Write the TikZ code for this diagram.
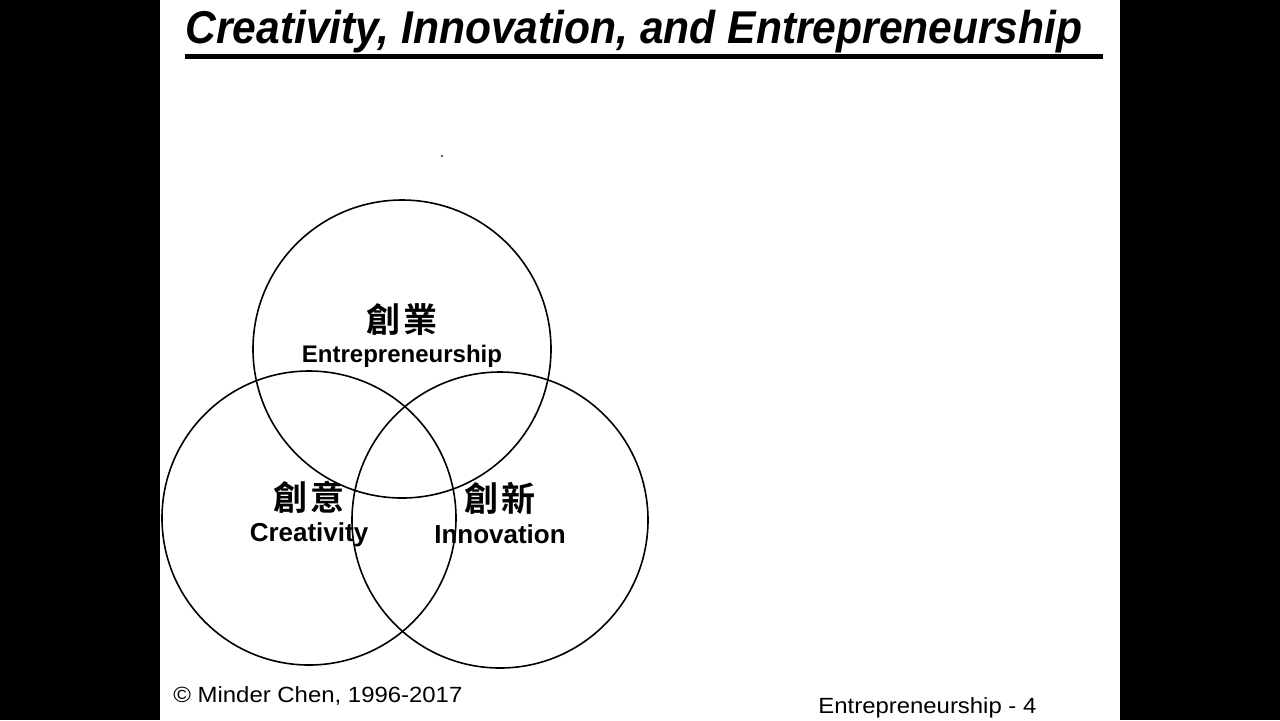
\documentclass[tikz,border=0pt]{standalone}
\usepackage{fontspec}
\usepackage{graphicx}
\setmainfont{Liberation Sans}
\newfontfamily\cjk{Noto Sans CJK TC}[BoldFont={Noto Sans CJK TC Bold}]
\begin{document}
\begin{tikzpicture}[x=0.5pt,y=-0.5pt,
  ring/.style={draw=black,line width=0.8pt},
  lab/.style={inner sep=0pt,anchor=base,font=\bfseries\fontsize{13pt}{13pt}\selectfont},
  han/.style={inner sep=0pt,font=\cjk\bfseries\fontsize{17pt}{17pt}\selectfont},
  foot/.style={inner sep=0pt,font=\fontsize{11pt}{11pt}\selectfont}]
\fill[black] (0,0) rectangle (1280,720);
\fill[white] (160,0) rectangle (1120,720);
\useasboundingbox (0,0) rectangle (1280,720);
% title
\node[inner sep=0pt,anchor=base west,font=\bfseries\itshape\fontsize{23pt}{23pt}\selectfont] (title) at (185,43) {\resizebox{448.5pt}{\height}{Creativity, Innovation, and Entrepreneurship}};
\fill[black] (185,53.5) rectangle (1103,58.5);
% stray dot
\fill[red!55!black] (442,156) circle (1.2);
% circles
\node[ring,circle,minimum size=298pt*0.5,inner sep=0pt] (ent) at (402,349) {};
\node[ring,circle,minimum size=294pt*0.5,inner sep=0pt] (cre) at (309,518) {};
\node[ring,circle,minimum size=296pt*0.5,inner sep=0pt] (inn) at (500,520) {};
% labels
\node[han] (entzh) at (402,320) {創\hspace{1.5pt}業};
\node[lab,font=\bfseries\fontsize{12pt}{12pt}\selectfont] (enten) at (402,362) {Entrepreneurship};
\node[han] (crezh) at (309,497) {創\hspace{1.5pt}意};
\node[lab] (creen) at (309,541) {Creativity};
\node[han] (innzh) at (500,498) {創\hspace{1.5pt}新};
\node[lab] (innen) at (500,543) {Innovation};
% footer
\node[foot,anchor=base west] (copy) at (173,702) {\resizebox{144.5pt}{\height}{© Minder Chen, 1996-2017}};
\node[foot,anchor=base west] (page) at (818,713) {\resizebox{109pt}{\height}{Entrepreneurship - 4}};
\end{tikzpicture}
\end{document}
